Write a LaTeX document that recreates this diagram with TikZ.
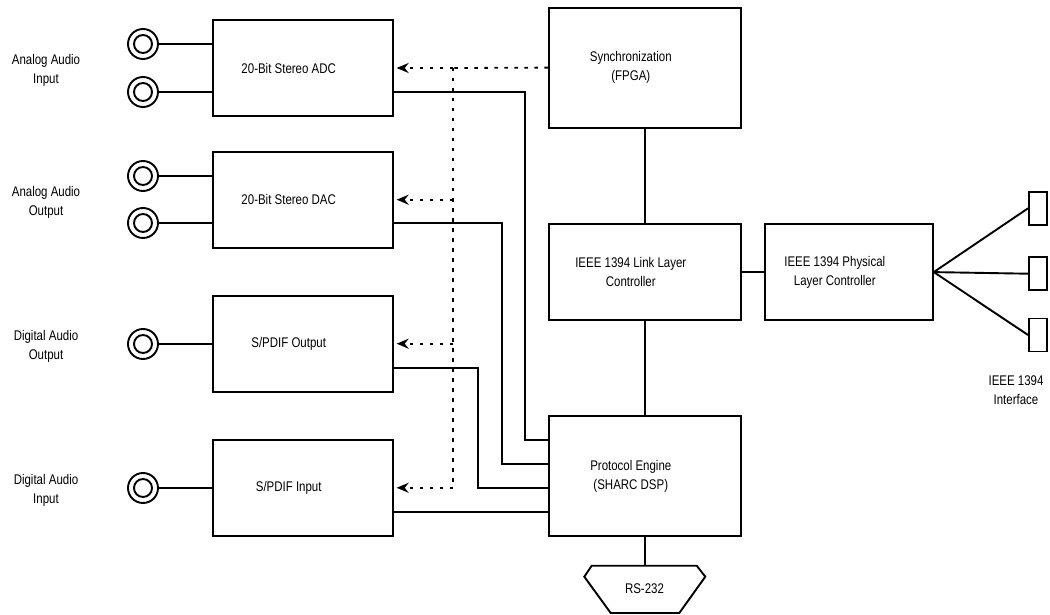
\documentclass[tikz,border=0pt]{standalone}
\usepackage{fontspec}
\setmainfont{Liberation Sans}[FakeStretch=0.82]
\usepackage{tikz}
\usetikzlibrary{positioning,arrows.meta}

\begin{document}
\begin{tikzpicture}[x=1pt,y=1pt,font=\fontsize{14}{19}\selectfont,line width=1.9pt,
  >={Stealth[length=12pt,width=10pt]}]
\tikzstyle{blk}=[draw,minimum width=180pt,minimum height=96pt,inner sep=0pt]
\tikzstyle{wide}=[blk,minimum width=192pt]
\tikzstyle{tall}=[wide,minimum height=120pt]
\tikzstyle{txt}=[label={[align=center,xshift=-14pt]center:#1}]
\tikzstyle{jack}=[draw,circle,minimum size=30pt,inner sep=0pt,
  path picture={\draw (path picture bounding box.center) circle (9pt);}]
\tikzstyle{port}=[draw,minimum width=18pt,minimum height=33pt,inner sep=0pt]
\tikzstyle{sig}=[line width=1.8pt,dash pattern=on 3.5pt off 6.5pt]
\tikzstyle{lbl}=[align=center]

\useasboundingbox (0,0) rectangle (1050,-615);

\node[blk,txt={20-Bit Stereo ADC}] (adc) at (302.7,-68) {};
\node[blk,txt={20-Bit Stereo DAC},below=33.8pt of adc] (dac) {};
\node[blk,txt={S/PDIF Output},below=46.1pt of dac] (spdo) {};
\node[blk,txt={S/PDIF Input},below=46.2pt of spdo] (spdi) {};

\node[tall,txt={Synchronization\\(FPGA)}] (sync) at (644.8,-67.6) {};
\node[wide,txt={IEEE 1394 Link Layer\\Controller},below=94.6pt of sync] (link) {};
\node[tall,txt={Protocol Engine\\(SHARC DSP)},below=94.1pt of link] (dsp) {};
\node[blk,minimum width=168pt,txt={IEEE 1394 Physical\\Layer Controller},
  right=22.1pt of link] (phys) {};

\node[lbl] (ain) at (46,-70) {Analog Audio\\Input};
\node[lbl] (aout) at (46,-202) {Analog Audio\\Output};
\node[lbl] (dout) at (46,-346) {Digital Audio\\Output};
\node[lbl] (din) at (46,-490) {Digital Audio\\Input};

\foreach \y/\b [count=\i] in {44/adc,92/adc,176/dac,223/dac,344/spdo,488/spdi}{
  \node[jack] (j\i) at (143,-\y) {};
  \draw (j\i.east) -- (j\i.east -| \b.west);
}

\foreach \y [count=\i] in {208.3,273.7,335}{
  \node[port] (p\i) at (1038,-\y) {};
  \draw (phys.east) -- (p\i.west);
}
\node[lbl] (ieee) at (1016,-390) {IEEE 1394\\Interface};

\draw (sync) -- (link);
\draw (link) -- (dsp);
\draw (link) -- (phys);

\draw ([yshift=-24pt]adc.east) -- ++(131.6,0) |- ([yshift=36pt]dsp.west);
\draw ([yshift=-23.5pt]dac.east) -- ++(108,0) |- ([yshift=12pt]dsp.west);
\draw ([yshift=-24pt]spdo.east) -- ++(84,0) |- ([yshift=-12pt]dsp.west);
\draw ([yshift=-24pt]spdi.east) -- ([yshift=-24pt]spdi.east -| dsp.west);

\coordinate (tap) at (453.3,-68);
\draw[sig] (sync.west) -- (tap);
\draw[sig,->,shorten >=3pt] (tap) -- (tap -| adc.east);
\draw[sig] (tap) -- (tap |- spdi.east);
\foreach \b in {dac,spdo,spdi}
  \draw[sig,->,shorten >=3pt] (tap |- \b.east) -- (\b.east);

\node (rs) at (644.5,-589) {RS-232};
\draw (591.7,-565.7) -- (696.7,-565.7) -- (705.3,-576.7) -- (679.3,-613)
  -- (610.7,-613) -- (584.3,-576.7) -- cycle;
\draw (dsp.south) -- ++(0,-29.3);
\end{tikzpicture}
\end{document}
